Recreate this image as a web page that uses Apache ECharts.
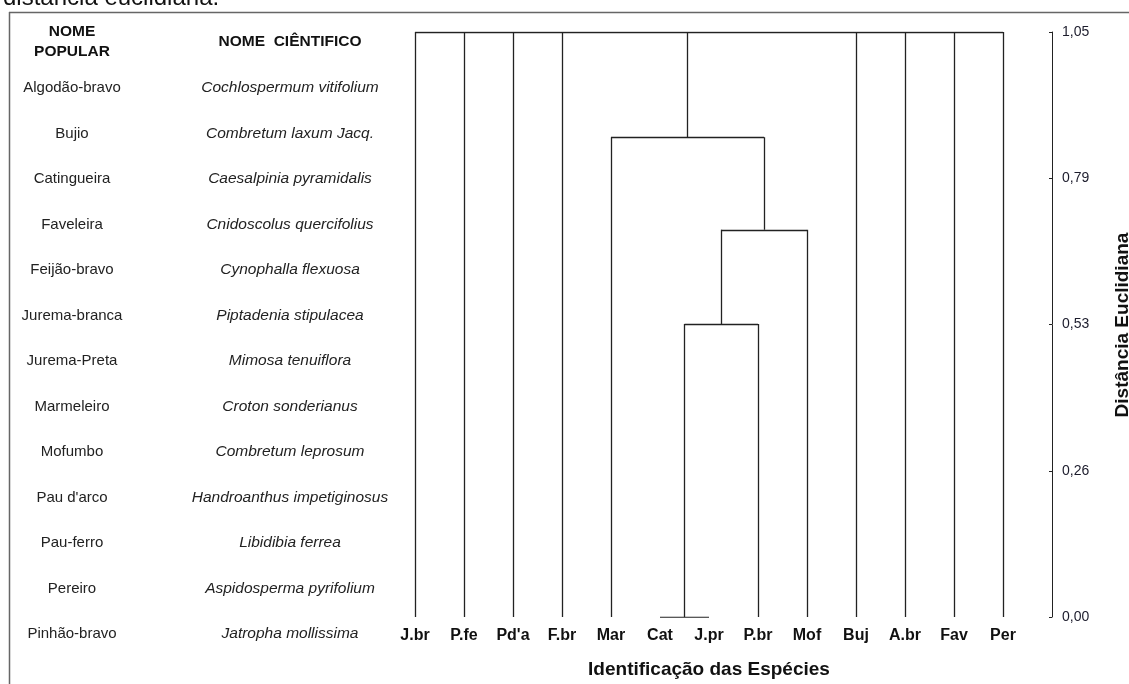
<!DOCTYPE html>
<html>
<head>
<meta charset="utf-8">
<script src="https://cdn.jsdelivr.net/npm/echarts@6/dist/echarts.min.js"></script>
<style>
  html, body { margin: 0; padding: 0; background: #fff; }
  #chart { width: 1129px; height: 684px; }
</style>
</head>
<body>
<div id="chart"></div>
<script>
// Species codes along the dendrogram, left to right
const leafCodes = ['J.br', 'P.fe', "Pd'a", 'F.br', 'Mar', 'Cat', 'J.pr', 'P.br', 'Mof', 'Buj', 'A.br', 'Fav', 'Per'];

// Clusters: node ids 0-12 are leaves, 13+ are the merges below in order
const mergeChildren = [
  [5, 6],                            // 13: Cat + J.pr
  [13, 7],                           // 14: + P.br
  [14, 8],                           // 15: + Mof
  [4, 15],                           // 16: Mar + ...
  [0, 1, 2, 3, 16, 9, 10, 11, 12]    // 17: root
];
const mergeHeights = [0.0, 0.526, 0.695, 0.861, 1.05];

// Distance axis ticks
const yTickValues = [0, 0.2625, 0.525, 0.7875, 1.05];
const yTickLabels = ['0,00', '0,26', '0,53', '0,79', '1,05'];

// Species table
const popularNames = ['Algodão-bravo', 'Bujio', 'Catingueira', 'Faveleira', 'Feijão-bravo', 'Jurema-branca',
  'Jurema-Preta', 'Marmeleiro', 'Mofumbo', "Pau d'arco", 'Pau-ferro', 'Pereiro', 'Pinhão-bravo'];
const scientificNames = ['Cochlospermum vitifolium', 'Combretum laxum Jacq.', 'Caesalpinia pyramidalis',
  'Cnidoscolus quercifolius', 'Cynophalla flexuosa', 'Piptadenia stipulacea', 'Mimosa tenuiflora',
  'Croton sonderianus', 'Combretum leprosum', 'Handroanthus impetiginosus', 'Libidibia ferrea',
  'Aspidosperma pyrifolium', 'Jatropha mollissima'];

// Build dendrogram segments from the cluster structure
const nodeX = leafCodes.map((_, i) => i);
const nodeH = leafCodes.map(() => 0);
const segments = [];
mergeChildren.forEach((kids, m) => {
  const h = mergeHeights[m];
  const xs = kids.map(k => nodeX[k]);
  kids.forEach(k => {
    if (h > nodeH[k]) segments.push({ coords: [[nodeX[k], nodeH[k]], [nodeX[k], h]] });
  });
  const lo = Math.min(...xs), hi = Math.max(...xs);
  segments.push({ coords: [[lo, h], [hi, h]] });
  nodeX.push((lo + hi) / 2);
  nodeH.push(h);
});

const FONT = 'Liberation Sans, Arial, sans-serif';
const rowTop = 88, rowStep = 45.5;

const graphics = [
  // caption fragment above the frame
  { type: 'text', x: 3, y: 10, style: { text: 'distância euclidiana.', font: '24px ' + FONT, fill: '#111', align: 'left', verticalAlign: 'bottom' } },
  // frame
  { type: 'line', shape: { x1: 9, y1: 12.5, x2: 1129, y2: 12.5 }, style: { stroke: '#666', lineWidth: 1.5 } },
  { type: 'line', shape: { x1: 9.5, y1: 12, x2: 9.5, y2: 684 }, style: { stroke: '#666', lineWidth: 1.5 } },
  // table headers
  { type: 'text', x: 72, y: 32, style: { text: 'NOME', font: 'bold 15.5px ' + FONT, fill: '#111', align: 'center', verticalAlign: 'middle' } },
  { type: 'text', x: 72, y: 52, style: { text: 'POPULAR', font: 'bold 15.5px ' + FONT, fill: '#111', align: 'center', verticalAlign: 'middle' } },
  { type: 'text', x: 290, y: 42, style: { text: 'NOME  CIÊNTIFICO', font: 'bold 15.5px ' + FONT, fill: '#111', align: 'center', verticalAlign: 'middle' } },
  // distance axis title
  { type: 'text', x: 1123, y: 325, rotation: Math.PI / 2, style: { text: 'Distância Euclidiana', font: 'bold 19px ' + FONT, fill: '#111', align: 'center', verticalAlign: 'middle' } }
];
popularNames.forEach((n, i) => {
  graphics.push({ type: 'text', x: 72, y: rowTop + i * rowStep,
    style: { text: n, font: '15px ' + FONT, fill: '#222', align: 'center', verticalAlign: 'middle' } });
});
scientificNames.forEach((n, i) => {
  graphics.push({ type: 'text', x: 290, y: rowTop + i * rowStep,
    style: { text: n, font: 'italic 15.5px ' + FONT, fill: '#222', align: 'center', verticalAlign: 'middle' } });
});

const chart = echarts.init(document.getElementById('chart'), null, { renderer: 'canvas' });
chart.setOption({
  animation: false,
  backgroundColor: '#fff',
  grid: { left: 415, right: 126, top: 32, bottom: 67, containLabel: false },
  xAxis: {
    type: 'value', min: 0, max: leafCodes.length - 1, interval: 1,
    splitLine: { show: false }, axisLine: { show: false }, axisTick: { show: false },
    axisLabel: {
      margin: 11, fontSize: 16, fontWeight: 'bold', fontFamily: FONT, color: '#111',
      formatter: v => leafCodes[Math.round(v)] || ''
    },
    name: 'Identificação das Espécies', nameLocation: 'middle', nameGap: 43,
    nameTextStyle: { fontSize: 19, fontWeight: 'bold', fontFamily: FONT, color: '#111' }
  },
  yAxis: {
    type: 'value', position: 'right', offset: 49, min: 0, max: 1.05, interval: 0.2625,
    splitLine: { show: false },
    axisLine: { show: true, onZero: false, lineStyle: { color: '#222', width: 1 } },
    axisTick: { show: true, inside: true, length: 3, lineStyle: { color: '#222' } },
    axisLabel: {
      margin: 10, fontSize: 14, fontFamily: FONT, color: '#1c1c2c',
      formatter: v => {
        let best = 0;
        yTickValues.forEach((t, i) => { if (Math.abs(t - v) < Math.abs(yTickValues[best] - v)) best = i; });
        return yTickLabels[best];
      }
    }
  },
  graphic: graphics,
  series: [{
    type: 'lines', coordinateSystem: 'cartesian2d', polyline: false,
    lineStyle: { color: '#222', width: 1.3, opacity: 1 },
    silent: true,
    data: segments
  }]
});
</script>
</body>
</html>
